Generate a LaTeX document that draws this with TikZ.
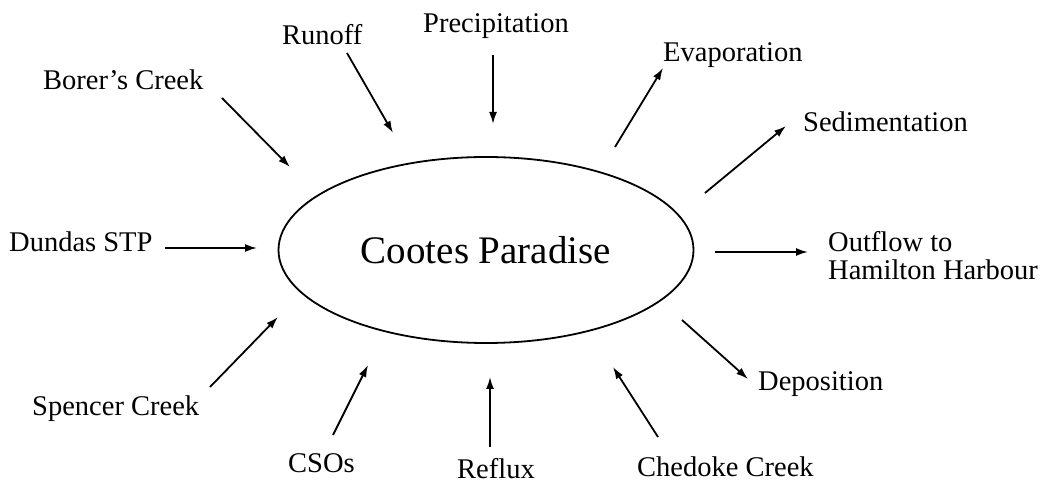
\documentclass[tikz,border=0pt]{standalone}
\usepackage{fontspec}
\setmainfont{Liberation Serif}
\usetikzlibrary{arrows,arrows.meta,shapes.geometric}
\tikzstyle{lbl}=[anchor=base west,inner sep=0pt,font=\fontsize{28.5}{28}\selectfont]
\tikzstyle{flow}=[-{Latex[length=12pt,width=8pt]},line width=1.8pt]

\begin{document}
\begin{tikzpicture}[x=1pt,y=-1pt]
\useasboundingbox (0,0) rectangle (1050,486);
\node [draw,ellipse,line width=1.8pt,minimum width=415pt,minimum height=186pt,inner sep=0pt,
  font=\fontsize{39}{39}\selectfont] (cp) at (486,250) {Cootes Paradise};

% labels
\node [lbl] (borer) at (43,90) {Borer's Creek};
\node [lbl] (runoff) at (282,45) {Runoff};
\node [lbl] (precip) at (423,33) {Precipitation};
\node [lbl] (evap) at (663,62) {Evaporation};
\node [lbl] (sedim) at (803,132) {Sedimentation};
\node [lbl] (dundas) at (9,252) {Dundas STP};
\node [lbl,anchor=north west,align=left] (outflow) at (828,231) {Outflow to\\Hamilton Harbour};
\node [lbl] (depos) at (758,390) {Deposition};
\node [lbl] (spencer) at (32,415) {Spencer Creek};
\node [lbl] (csos) at (288,472) {CSOs};
\node [lbl] (reflux) at (457,478) {Reflux};
\node [lbl] (chedoke) at (637,476) {Chedoke Creek};

% arrow ends
\coordinate (borer-a) at (222,98);   \coordinate (borer-b) at (290,167);
\coordinate (runoff-a) at (347,53);  \coordinate (runoff-b) at (393,133);
\coordinate (precip-a) at (493,55);  \coordinate (precip-b) at (493,124);
\coordinate (evap-a) at (615,147);   \coordinate (evap-b) at (663,68);
\coordinate (sedim-a) at (705,193);  \coordinate (sedim-b) at (786,126);
\coordinate (dundas-a) at (165,248); \coordinate (dundas-b) at (257,248);
\coordinate (outflow-a) at (715,252); \coordinate (outflow-b) at (808,252);
\coordinate (depos-a) at (682,320);  \coordinate (depos-b) at (748,379);
\coordinate (spencer-a) at (210,387); \coordinate (spencer-b) at (278,317);
\coordinate (csos-a) at (333,435);   \coordinate (csos-b) at (368,365);
\coordinate (reflux-a) at (490,447); \coordinate (reflux-b) at (490,377);
\coordinate (chedoke-a) at (658,437); \coordinate (chedoke-b) at (613,367);

\draw [flow] (borer-a) -- (borer-b);
\draw [flow] (runoff-a) -- (runoff-b);
\draw [flow] (precip-a) -- (precip-b);
\draw [flow] (evap-a) -- (evap-b);
\draw [flow] (sedim-a) -- (sedim-b);
\draw [flow] (dundas-a) -- (dundas-b);
\draw [flow] (outflow-a) -- (outflow-b);
\draw [flow] (depos-a) -- (depos-b);
\draw [flow] (spencer-a) -- (spencer-b);
\draw [flow] (csos-a) -- (csos-b);
\draw [flow] (reflux-a) -- (reflux-b);
\draw [flow] (chedoke-a) -- (chedoke-b);
\end{tikzpicture}
\end{document}
